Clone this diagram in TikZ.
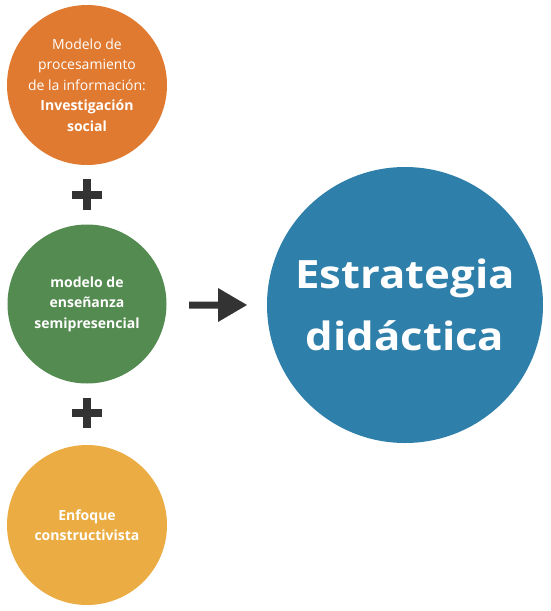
\documentclass[tikz,border=0pt]{standalone}
\usepackage{fontspec}
\setmainfont{Open Sans}
\newfontfamily\widebold{Open Sans}[FakeStretch=1.12,UprightFont=*-Bold]
\begin{document}
\begin{tikzpicture}[x=1pt,y=-1pt,
  disc/.style={circle,inner sep=0pt,text=white,align=center},
  smalltext/.style={font=\fontsize{14}{20.5}\selectfont},
  smallbold/.style={font=\fontsize{14}{20.5}\selectfont\bfseries},
  bigtext/.style={font=\fontsize{39}{62}\widebold},
  darkfill/.style={fill=darkgrey,draw=none}]
\definecolor{orangeC}{HTML}{E07A31}
\definecolor{greenC}{HTML}{548B50}
\definecolor{yellowC}{HTML}{EBAD43}
\definecolor{blueC}{HTML}{2E7FAA}
\definecolor{darkgrey}{HTML}{333333}
\useasboundingbox (0,0) rectangle (550,611);
\node[disc,fill=orangeC,minimum size=160pt,smalltext] (proc) at (87,85)
  {Modelo de\\procesamiento\\de la información:\\\textbf{Investigación}\\\textbf{social}};
\node[disc,fill=greenC,minimum size=159pt,smallbold] (semi) at (87,304)
  {modelo de\\enseñanza\\semipresencial};
\node[disc,fill=yellowC,minimum size=160pt,smallbold] (cons) at (87,525)
  {Enfoque\\constructivista};
\node[disc,fill=blueC,minimum size=276pt,bigtext] (estr) at (405,305)
  {Estrategia\\didáctica};
% plus signs
\fill[darkfill] (72,191) rectangle (102,199);
\fill[darkfill] (83,179) rectangle (91,210);
\fill[darkfill] (72,409) rectangle (102,417);
\fill[darkfill] (83,398) rectangle (91,428);
% arrow
\coordinate (a1) at (189,301.5);
\fill[darkfill] (a1) -- (218,301.5) -- (218,288) -- (247,305) -- (218,322) -- (218,308.5) -- (189,308.5) -- cycle;
\end{tikzpicture}
\end{document}
